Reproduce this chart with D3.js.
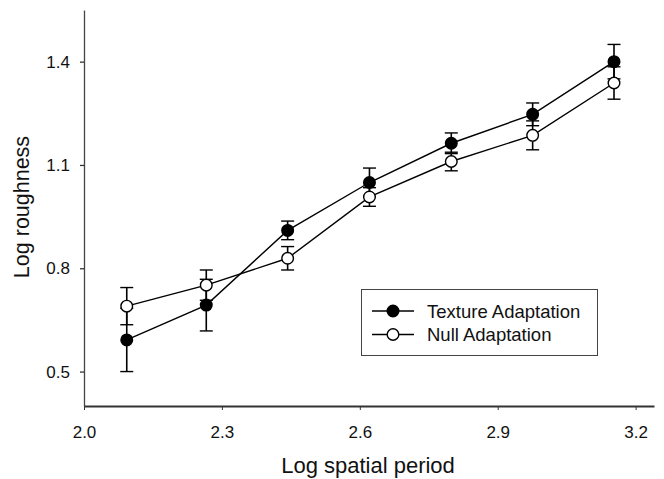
<!DOCTYPE html>
<html>
<head>
<meta charset="utf-8">
<script src="https://cdn.jsdelivr.net/npm/d3@7"></script>
<style>
  html, body { margin: 0; padding: 0; background: #fff; }
  svg { display: block; font-family: "Liberation Sans", Arial, Helvetica, sans-serif; }
</style>
</head>
<body>
<svg id="chart" width="664" height="479"></svg>
<script>
// ---- data ----
const logPeriod = [2.093, 2.266, 2.443, 2.621, 2.799, 2.976, 3.153];
const textureMean = [0.592, 0.693, 0.910, 1.049, 1.163, 1.247, 1.400];
const textureErr  = [0.092, 0.075, 0.027, 0.042, 0.030, 0.033, 0.050];
const nullMean    = [0.690, 0.751, 0.829, 1.007, 1.110, 1.186, 1.338];
const nullErr     = [0.054, 0.044, 0.034, 0.027, 0.027, 0.042, 0.047];
const xTicks = [2.0, 2.3, 2.6, 2.9, 3.2];
const yTicks = [0.5, 0.8, 1.1, 1.4];
const seriesNames = ["Texture Adaptation", "Null Adaptation"];

const svg = d3.select("#chart");
const x = d3.scaleLinear().domain([2.0, 3.24]).range([84, 654]);
const y = d3.scaleLinear().domain([0.4, 1.55]).range([406, 10]);

// axes
const xAxis = svg.append("g").attr("transform", "translate(0,406)")
  .call(d3.axisBottom(x).tickValues(xTicks).tickFormat(d3.format(".1f")).tickSizeInner(4).tickSizeOuter(0).tickPadding(16));
xAxis.select(".domain").attr("stroke", "#333").attr("stroke-width", 2);
xAxis.selectAll(".tick line").attr("stroke", "#333");
xAxis.selectAll("text").attr("font-size", 17).attr("fill", "#111");

const yAxis = svg.append("g").attr("transform", "translate(84,0)")
  .call(d3.axisLeft(y).tickValues(yTicks).tickFormat(d3.format(".1f")).tickSizeInner(4).tickSizeOuter(0).tickPadding(10));
yAxis.select(".domain").attr("stroke", "#444").attr("stroke-width", 1.3);
yAxis.selectAll(".tick line").attr("stroke", "#333").attr("stroke-width", 1.3);
yAxis.selectAll("text").attr("font-size", 17).attr("fill", "#111");

// axis titles
svg.append("text").attr("x", 368).attr("y", 473).attr("text-anchor", "middle")
  .attr("font-size", 22).attr("fill", "#111").text("Log spatial period");
svg.append("text").attr("transform", "translate(29,207) rotate(-90)").attr("text-anchor", "middle")
  .attr("font-size", 21.5).attr("fill", "#111").text("Log roughness");

// series
const series = [
  { name: seriesNames[0], mean: textureMean, err: textureErr, fill: "#000" },
  { name: seriesNames[1], mean: nullMean, err: nullErr, fill: "#fff" }
];
const line = d3.line().x(d => x(d.x)).y(d => y(d.y));

series.forEach(s => {
  const pts = logPeriod.map((v, i) => ({ x: v, y: s.mean[i], e: s.err[i] }));
  const g = svg.append("g");
  g.append("path").datum(pts).attr("d", line).attr("fill", "none").attr("stroke", "#000").attr("stroke-width", 1.4);
  const eb = g.selectAll(".eb").data(pts).enter().append("g");
  eb.append("line").attr("x1", d => x(d.x)).attr("x2", d => x(d.x))
    .attr("y1", d => y(d.y - d.e)).attr("y2", d => y(d.y + d.e)).attr("stroke", "#000").attr("stroke-width", 1.6);
  eb.append("line").attr("x1", d => x(d.x) - 6.5).attr("x2", d => x(d.x) + 6.5)
    .attr("y1", d => y(d.y + d.e)).attr("y2", d => y(d.y + d.e)).attr("stroke", "#000").attr("stroke-width", 1.4);
  eb.append("line").attr("x1", d => x(d.x) - 6.5).attr("x2", d => x(d.x) + 6.5)
    .attr("y1", d => y(d.y - d.e)).attr("y2", d => y(d.y - d.e)).attr("stroke", "#000").attr("stroke-width", 1.4);
  s.pts = pts; s.g = g;
});
series.slice().reverse().forEach(s => {
  s.g.selectAll("circle").data(s.pts).enter().append("circle")
    .attr("cx", d => x(d.x)).attr("cy", d => y(d.y)).attr("r", 5.8)
    .attr("fill", s.fill).attr("stroke", "#000").attr("stroke-width", 1.4);
});

// legend
const lg = svg.append("g");
lg.append("rect").attr("x", 361.5).attr("y", 289.5).attr("width", 236).attr("height", 66)
  .attr("fill", "#fff").attr("stroke", "#444").attr("stroke-width", 1);
series.forEach((s, i) => {
  const cy = 311 + i * 23.5;
  lg.append("line").attr("x1", 372).attr("x2", 414).attr("y1", cy).attr("y2", cy)
    .attr("stroke", "#000").attr("stroke-width", 1.4);
  lg.append("circle").attr("cx", 393).attr("cy", cy).attr("r", 5.8)
    .attr("fill", s.fill).attr("stroke", "#000").attr("stroke-width", 1.4);
  lg.append("text").attr("x", 427).attr("y", cy + 6.5).attr("font-size", 18.5).attr("fill", "#111").text(s.name);
});
</script>
</body>
</html>
